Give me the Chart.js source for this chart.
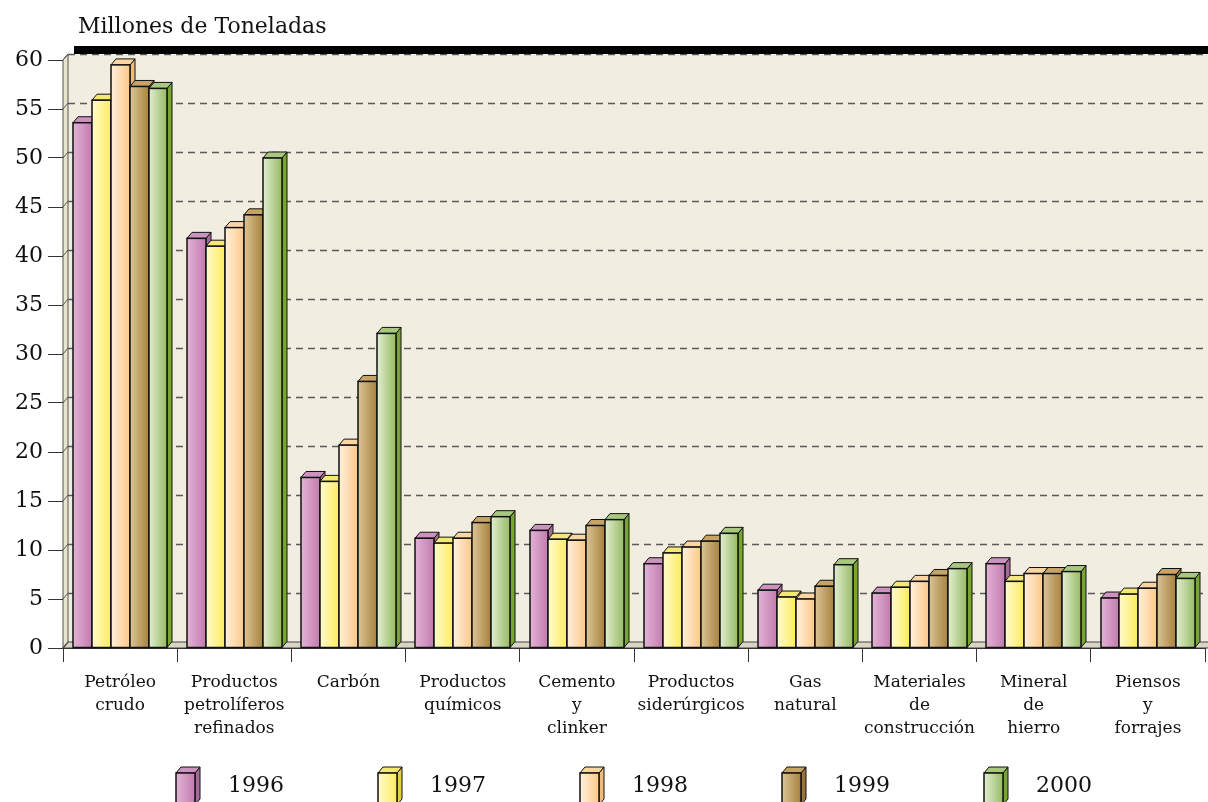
<!DOCTYPE html>
<html>
<head>
<meta charset="utf-8">
<script src="https://cdn.jsdelivr.net/npm/chart.js@4.4.1/dist/chart.umd.min.js"></script>
<style>
  html, body { margin:0; padding:0; background:#fff; }
  #wrap { width:1208px; height:802px; }
</style>
</head>
<body>
<div id="wrap"><canvas id="c" width="1208" height="802"></canvas></div>
<script>
// categorias y valores (millones de toneladas)
var categorias = [
  ["Petróleo","crudo"],
  ["Productos","petrolíferos","refinados"],
  ["Carbón"],
  ["Productos","químicos"],
  ["Cemento","y","clinker"],
  ["Productos","siderúrgicos"],
  ["Gas","natural"],
  ["Materiales","de","construcción"],
  ["Mineral","de","hierro"],
  ["Piensos","y","forrajes"]
];
var anios = ["1996","1997","1998","1999","2000"];
var v1996 = [53.6, 41.8, 17.4, 11.2, 12.0,  8.6, 5.9, 5.6, 8.6, 5.1];
var v1997 = [55.9, 41.0, 17.0, 10.7, 11.1,  9.7, 5.2, 6.2, 6.8, 5.5];
var v1998 = [59.5, 42.9, 20.7, 11.2, 11.0, 10.3, 5.0, 6.8, 7.6, 6.1];
var v1999 = [57.3, 44.2, 27.2, 12.8, 12.5, 10.9, 6.3, 7.4, 7.6, 7.5];
var v2000 = [57.1, 50.0, 32.1, 13.4, 13.1, 11.7, 8.5, 8.1, 7.8, 7.1];
var yTicks = [0,5,10,15,20,25,30,35,40,45,50,55,60];

// colores: [frente claro, frente oscuro, tapa, lateral]
var colores = [
  ["#e4b2d6", "#c07cae", "#cc92c0", "#a8689a"],
  ["#fffbd0", "#fdec5c", "#f6e878", "#e2d042"],
  ["#fff0dc", "#fcc888", "#fbd6a2", "#eebc78"],
  ["#dcc496", "#a6823e", "#c6a468", "#9a7636"],
  ["#e2eed2", "#96ba64", "#a8c880", "#76a630"]
];
var FONT = "'DejaVu Serif', serif";
var DX = 5, DY = 6;

var series = [v1996, v1997, v1998, v1999, v2000];
var datasets = series.map(function(s, i){
  return { label: anios[i], data: s, backgroundColor: "rgba(0,0,0,0)", borderWidth: 0,
           categoryPercentage: 0.83, barPercentage: 1.0 };
});

function poly(ctx, pts, fill, stroke, lw){
  ctx.beginPath();
  ctx.moveTo(pts[0][0], pts[0][1]);
  for (var i = 1; i < pts.length; i++) ctx.lineTo(pts[i][0], pts[i][1]);
  ctx.closePath();
  if (fill){ ctx.fillStyle = fill; ctx.fill(); }
  if (stroke){ ctx.strokeStyle = stroke; ctx.lineWidth = lw || 1; ctx.stroke(); }
}

function caja(ctx, x0, x1, yt, yb, col){
  // lateral
  poly(ctx, [[x1,yt],[x1+DX,yt-DY],[x1+DX,yb-DY],[x1,yb]], col[3], "#111", 1);
  // tapa
  poly(ctx, [[x0,yt],[x0+DX,yt-DY],[x1+DX,yt-DY],[x1,yt]], col[2], "#111", 1);
  // frente
  var g = ctx.createLinearGradient(x0, 0, x1, 0);
  g.addColorStop(0, col[0]);
  g.addColorStop(1, col[1]);
  ctx.fillStyle = g;
  ctx.fillRect(x0, yt, x1 - x0, yb - yt);
  ctx.strokeStyle = "#111";
  ctx.lineWidth = 1.5;
  ctx.strokeRect(x0, yt, x1 - x0, yb - yt);
}

var escena = {
  id: "escena",
  beforeDraw: function(chart){
    var ctx = chart.ctx, a = chart.chartArea, ys = chart.scales.y;
    var L = a.left, R = chart.width, T = ys.getPixelForValue(60), B = ys.getPixelForValue(0);
    ctx.save();
    ctx.fillStyle = "#fff";
    ctx.fillRect(0, 0, chart.width, chart.height);
    // pared del fondo
    ctx.fillStyle = "#f1eee1";
    ctx.fillRect(L + DX, T - DY, R - L - DX, B - T);
    // pared izquierda
    poly(ctx, [[L,T],[L+DX,T-DY],[L+DX,B-DY],[L,B]], "#e8e5cf", "#555", 1);
    // suelo
    poly(ctx, [[L,B],[L+DX,B-DY],[R+2,B-DY],[R+2,B]], "#d8d5c1", "#444", 1.2);
    // lineas de division
    ctx.setLineDash([7,5]);
    ctx.strokeStyle = "#5a5a5a";
    ctx.lineWidth = 1.5;
    yTicks.forEach(function(v){
      if (v === 0) return;
      var y = Math.round(ys.getPixelForValue(v) - DY) + 0.5;
      ctx.beginPath(); ctx.moveTo(L + DX, y); ctx.lineTo(R, y); ctx.stroke();
    });
    ctx.setLineDash([]);
    ctx.strokeStyle = "#555";
    ctx.lineWidth = 1;
    yTicks.forEach(function(v){
      var y = ys.getPixelForValue(v);
      ctx.beginPath(); ctx.moveTo(L, y); ctx.lineTo(L + DX, y - DY); ctx.stroke();
    });
    // banda negra superior
    ctx.fillStyle = "#000";
    ctx.fillRect(L + DX + 6, T - DY - 8, R - L, 8);
    ctx.restore();
  },
  afterDatasetsDraw: function(chart){
    var ctx = chart.ctx;
    ctx.save();
    for (var i = 0; i < categorias.length; i++){
      for (var d = 0; d < chart.data.datasets.length; d++){
        var el = chart.getDatasetMeta(d).data[i];
        var x0 = Math.round(el.x - el.width / 2), x1 = Math.round(el.x + el.width / 2);
        caja(ctx, x0, x1, el.y, el.base, colores[d]);
      }
    }
    ctx.restore();
  },
  afterDraw: function(chart){
    var ctx = chart.ctx;
    ctx.save();
    // titulo del eje
    ctx.fillStyle = "#111";
    ctx.font = "22px " + FONT;
    ctx.textBaseline = "alphabetic";
    ctx.textAlign = "left";
    ctx.fillText("Millones de Toneladas", 78, 33);
    // leyenda
    ctx.font = "22px " + FONT;
    ctx.textBaseline = "middle";
    for (var d = 0; d < anios.length; d++){
      var x = 176 + d * 202;
      caja(ctx, x, x + 19, 773, 805, colores[d]);
      ctx.fillStyle = "#111";
      ctx.fillText(anios[d], x + 52, 786);
    }
    ctx.restore();
  }
};

new Chart(document.getElementById("c"), {
  type: "bar",
  data: { labels: categorias, datasets: datasets },
  plugins: [escena],
  options: {
    responsive: false,
    animation: false,
    layout: { padding: { top: 60, right: 3, bottom: 0, left: 0 } },
    plugins: { legend: { display: false }, tooltip: { enabled: false } },
    scales: {
      x: {
        grid: { offset: true, drawOnChartArea: false, drawTicks: true, tickLength: 14, color: "#333", lineWidth: 1 },
        border: { display: true, color: "#333", width: 1 },
        ticks: { autoSkip: false, maxRotation: 0, minRotation: 0, padding: 9, color: "#111",
                 font: { family: FONT, size: 17, lineHeight: 1.35 } },
        afterFit: function(s){ s.height = 154; }
      },
      y: {
        min: 0, max: 60,
        afterBuildTicks: function(s){ s.ticks = yTicks.map(function(v){ return { value: v }; }); },
        grid: { drawOnChartArea: false, drawTicks: true, tickLength: 15, color: "#333", lineWidth: 1 },
        border: { display: false },
        ticks: { padding: 5, color: "#111", font: { family: FONT, size: 22 } },
        afterFit: function(s){ s.width = 63; }
      }
    }
  }
});
</script>
</body>
</html>
